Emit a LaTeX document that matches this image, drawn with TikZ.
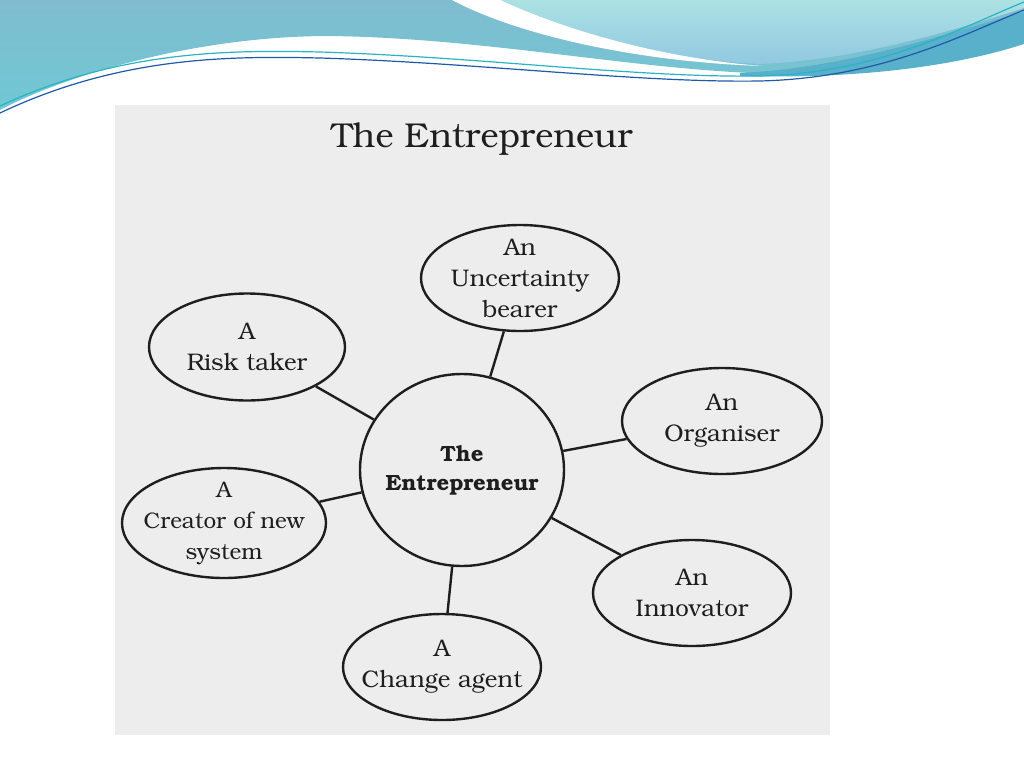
\documentclass[tikz,border=0pt]{standalone}
\usepackage[T1]{fontenc}
\usepackage{bookman}
\usetikzlibrary{shapes.geometric}
\definecolor{tealA}{RGB}{128,188,208}
\definecolor{tealB}{RGB}{112,200,212}
\definecolor{lightA}{RGB}{172,226,226}
\definecolor{lightB}{RGB}{146,200,226}
\definecolor{bandC}{RGB}{88,176,202}
\definecolor{lineBlue}{RGB}{30,90,170}
\definecolor{lineTeal}{RGB}{40,180,196}
\definecolor{scan}{RGB}{238,237,237}
\definecolor{ink}{RGB}{30,30,30}
\tikzset{
  ell/.style={ellipse, draw=ink, line width=2.4pt, inner xsep=-30pt, inner ysep=-20pt,
    align=center, text=ink, font=\fontsize{24}{31}\selectfont},
  hub/.style={ellipse, draw=ink, line width=2.4pt, inner xsep=-30pt, inner ysep=-20pt,
    align=center, text=ink, font=\fontsize{22}{29}\selectfont\bfseries},
  conn/.style={draw=ink, line width=2.4pt},
  ttl/.style={text=ink, font=\fontsize{34.5}{38}\selectfont}
}
\begin{document}
\begin{tikzpicture}[x=1pt,y=-1pt]
\useasboundingbox (0,0) rectangle (1024,768);
\fill[white] (0,0) rectangle (1024,768);
% header wave
\shade[top color=tealA, bottom color=tealB]
  (0,0) -- (1024,0) -- (1024,42)
  .. controls (930,60) and (840,75) .. (751,73)
  .. controls (620,67) and (480,38) .. (330,36)
  .. controls (190,36) and (60,78) .. (0,110) -- cycle;
\shade[top color=lightA, bottom color=lightB]
  (490,0) .. controls (560,35) and (670,60) .. (760,64)
  .. controls (860,60) and (960,28) .. (1024,8) -- (1024,0) -- cycle;
\fill[white]
  (452,0) .. controls (520,36) and (640,62) .. (762,66)
  .. controls (660,58) and (565,30) .. (500,0) -- cycle;
\fill[bandC]
  (740,73) .. controls (850,68) and (950,32) .. (1024,12)
  -- (1024,44) .. controls (950,68) and (850,79) .. (740,76) -- cycle;
\draw[lineTeal, line width=1.2pt]
  (0,106) .. controls (120,50) and (230,50) .. (320,52)
  .. controls (480,57) and (640,78) .. (760,76)
  .. controls (880,73) and (960,28) .. (1024,2);
\draw[lineBlue, line width=1.2pt]
  (0,113) .. controls (120,56) and (230,56) .. (320,58)
  .. controls (480,63) and (640,83) .. (760,81)
  .. controls (880,78) and (960,36) .. (1024,10);
% scanned page
\fill[scan] (115,105) rectangle (830,735);
% title
\node[ttl] (title) at (482,139) {The Entrepreneur};
% nodes
\node[hub, minimum width=204pt, minimum height=192pt] (C) at (462,470) {The\\Entrepreneur};
\node[ell, minimum width=198pt, minimum height=106pt] (U) at (520,278) {An\\Uncertainty\\bearer};
\node[ell, minimum width=196pt, minimum height=107pt] (R) at (247,347) {A\\Risk taker};
\node[ell, minimum width=200pt, minimum height=106pt] (O) at (722,421) {An\\Organiser};
\node[ell, minimum width=204pt, minimum height=110pt, font=\fontsize{22.5}{31}\selectfont] (K) at (224,523) {A\\Creator of new\\system};
\node[ell, minimum width=198pt, minimum height=106pt] (I) at (692,593) {An\\Innovator};
\node[ell, minimum width=198pt, minimum height=106pt] (G) at (442,667) {A\\Change agent};
% connectors
\draw[conn] (C) -- (U);
\draw[conn] (C) -- (R);
\draw[conn] (C) -- (O);
\draw[conn] (C) -- (K);
\draw[conn] (C) -- (I);
\draw[conn] (C) -- (G);
\end{tikzpicture}
\end{document}
